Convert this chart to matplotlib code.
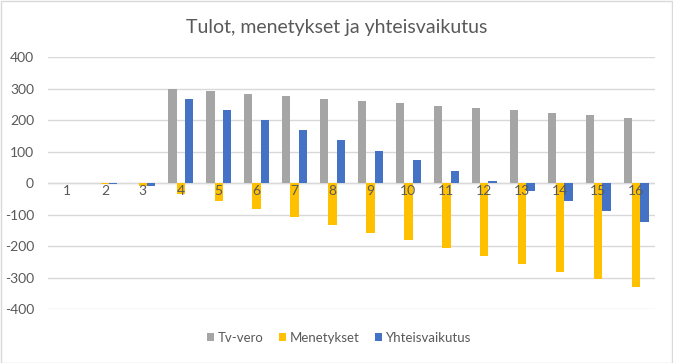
import numpy as np
import matplotlib.pyplot as plt
from matplotlib.patches import Rectangle

categories = [str(i) for i in range(1, 17)]
tv_vero = [0, 0, 0, 299, 292, 284, 277, 269, 261, 254, 246, 239, 232, 224, 216, 208]
menetykset = [0, -3, -9, -33, -58, -83, -107, -132, -158, -181, -206, -233, -257, -281, -306, -331]
yhteisvaikutus = [0, -3, -9, 266, 234, 201, 170, 137, 103, 73, 40, 6, -25, -57, -90, -123]
series_names = ["Tv-vero", "Menetykset", "Yhteisvaikutus"]
colors = ["#A5A5A5", "#FFC000", "#4472C4"]
yticks = [-400, -300, -200, -100, 0, 100, 200, 300, 400]


def main():
    plt.rcParams['font.family'] = ['Lato', 'DejaVu Sans']
    plt.rcParams['axes.unicode_minus'] = False
    text_color = "#595959"

    fig = plt.figure(figsize=(6.73, 3.63), dpi=100)
    ax = fig.add_axes([48 / 673, 1 - 309 / 363, (655 - 48) / 673, (309 - 57.3) / 363])

    x = np.arange(1, len(categories) + 1)
    w = 0.22
    for k, (vals, name, c) in enumerate(zip([tv_vero, menetykset, yhteisvaikutus], series_names, colors)):
        ax.bar(x + (k - 1) * w, vals, width=w, color=c, label=name, zorder=3)

    ax.set_xlim(0.5, len(categories) + 0.5)
    ax.set_ylim(-400, 400)
    ax.set_yticks(yticks)
    ax.set_yticklabels([str(t) for t in yticks])
    ax.yaxis.grid(True, color="#D9D9D9", linewidth=1, zorder=0)
    ax.axhline(0, color="#D9D9D9", linewidth=1, zorder=2)
    for s in ax.spines.values():
        s.set_visible(False)
    ax.tick_params(axis="y", length=0, labelsize=10, labelcolor=text_color, pad=10)
    ax.set_xticks([])

    # category labels sit just below the zero line
    for xi, lab in zip(x, categories):
        ax.text(xi, -6, lab, ha="center", va="top", fontsize=10, color=text_color, zorder=4)

    fig.text(0.5, 1 - 27 / 363, "Tulot, menetykset ja yhteisvaikutus", ha="center", va="center",
             fontsize=14, color=text_color)

    leg = fig.legend(loc="center", bbox_to_anchor=(339 / 673, 1 - 338 / 363), ncol=3, frameon=False,
                     fontsize=9.5, handlelength=0.55, handleheight=0.55, handletextpad=0.25,
                     columnspacing=1.2)
    for t in leg.get_texts():
        t.set_color(text_color)

    fig.patches.append(Rectangle((0.5 / 673, 0.5 / 363), 1 - 1.5 / 673, 1 - 1.5 / 363,
                                 transform=fig.transFigure, fill=False, edgecolor="#D9D9D9",
                                 linewidth=1))

    fig.savefig("out.png", dpi=100)


if __name__ == "__main__":
    main()
